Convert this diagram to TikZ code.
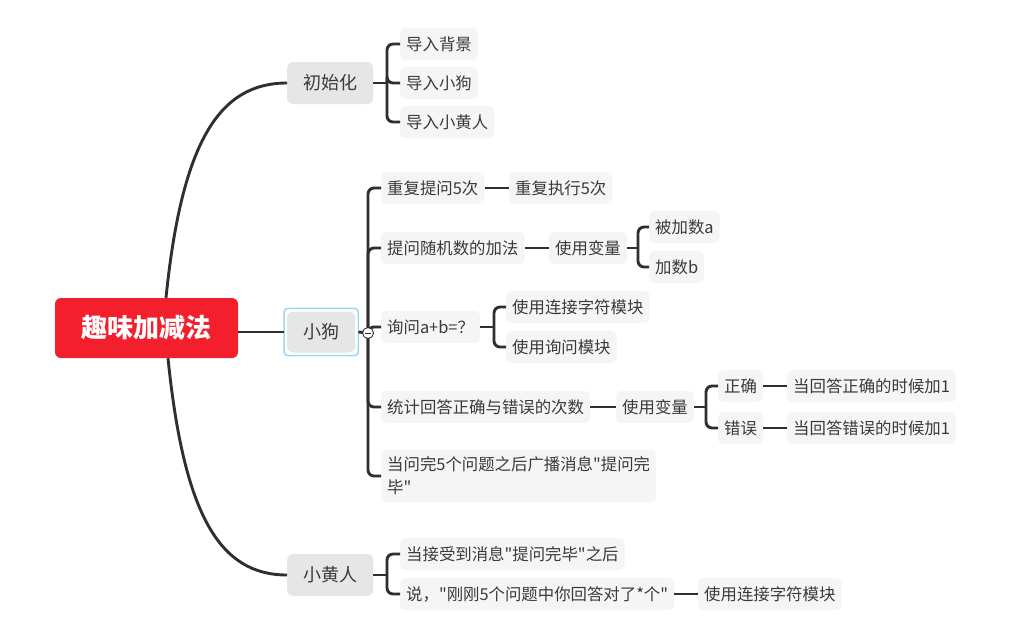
\documentclass[tikz,border=0pt]{standalone}
\usepackage{fontspec}
\setmainfont{Noto Sans CJK SC}[Ligatures=TeXOff]
\definecolor{linec}{HTML}{2F2F2F}
\definecolor{rootred}{HTML}{F31F2D}
\definecolor{midf}{HTML}{E6E6E6}
\definecolor{leaff}{HTML}{F5F5F5}
\definecolor{textc}{HTML}{3A3A3A}
\definecolor{framec}{HTML}{9ED8F7}
\begin{document}
\begin{tikzpicture}[x=1pt,y=-1pt,
 conn/.style={draw=linec, line width=2.9pt, rounded corners=6pt},
 leaf/.style={fill=leaff, rounded corners=5pt, minimum height=32pt, inner xsep=6pt, inner ysep=0pt, text=textc, font=\fontsize{16.4}{23}\selectfont, anchor=west},
 mid/.style={fill=midf, rounded corners=6pt, minimum height=42pt, inner xsep=16pt, inner ysep=0pt, text=textc, font=\fontsize{18}{22}\selectfont, anchor=west},
 rootbox/.style={fill=rootred, rounded corners=6pt, minimum width=183pt, minimum height=60pt, text=white, font=\fontsize{26}{30}\selectfont\bfseries},
]
\useasboundingbox[fill=white] (0,0) rectangle (1024,634);

% nodes
\node[rootbox] (root) at (146.5,328) {趣味加减法};
\node[mid] (init) at (287,83) {初始化};
\node[mid, minimum height=41pt] (dog) at (287,332) {小狗};
\node[mid] (yel) at (287,575) {小黄人};
\draw[framec, line width=1.5pt, rounded corners=4pt] ([xshift=-3pt,yshift=3pt]dog.north west) rectangle ([xshift=3pt,yshift=-3pt]dog.south east);

\node[leaf] (i1) at (400,44) {导入背景};
\node[leaf] (i2) at (400,83) {导入小狗};
\node[leaf] (i3) at (400,122) {导入小黄人};

\node[leaf] (d1) at (381,188) {重复提问5次};
\node[leaf] (d1a) at (509,188) {重复执行5次};
\node[leaf] (d2) at (381,248) {提问随机数的加法};
\node[leaf] (d2a) at (549,248) {使用变量};
\node[leaf] (d2b) at (649,227) {被加数a};
\node[leaf] (d2c) at (649,267) {加数b};
\node[leaf] (d3) at (381,327) {询问a+b=？};
\node[leaf] (d3a) at (506,307) {使用连接字符模块};
\node[leaf] (d3b) at (506,347) {使用询问模块};
\node[leaf] (d4) at (381,407) {统计回答正确与错误的次数};
\node[leaf] (d4a) at (616,407) {使用变量};
\node[leaf] (d4b) at (718,386) {正确};
\node[leaf] (d4c) at (718,428) {错误};
\node[leaf] (d4d) at (787,386) {当回答正确的时候加1};
\node[leaf] (d4e) at (787,428) {当回答错误的时候加1};
\node[leaf, align=left, minimum height=53pt] (d5) at (381,476) {当问完5个问题之后广播消息"提问完\\毕"};

\node[leaf] (y1) at (400,554) {当接受到消息"提问完毕"之后};
\node[leaf] (y2) at (400,594) {说，"刚刚5个问题中你回答对了*个"};
\node[leaf] (y2a) at (698,594) {使用连接字符模块};

% main connectors
\draw[conn] ([xshift=19.5pt]root.north) .. controls (182,140) and (220,83) .. (init.west);
\draw[conn] ([xshift=21.5pt]root.south) .. controls (184,516) and (220,575) .. (yel.west);
\draw[conn] ([xshift=-3pt]dog.west) -- (dog.west -| root.east);

% init bracket
\coordinate (ib) at (387,83);
\draw[conn] (init.east) -- (ib);
\foreach \c in {i1,i2,i3} \draw[conn] (\c.west) -| (ib);

% dog bracket
\coordinate (db) at (368,333);
\draw[conn] ([xshift=3pt]dog.east) -- (db);
\foreach \c in {d1,d2,d3,d4,d5} \draw[conn] (\c.west) -| (db);
\node[circle, draw=linec, fill=white, line width=0.9pt, minimum size=11pt, inner sep=0pt] (tog) at (db) {};
\draw[linec, line width=0.9pt] ([xshift=-3.2pt]tog.center) -- ([xshift=3.2pt]tog.center);

\draw[conn] (d1.east) -- (d1a.west);
\draw[conn] (d2.east) -- (d2a.west);
\coordinate (v1) at (638,248);
\draw[conn] (d2a.east) -- (v1);
\foreach \c in {d2b,d2c} \draw[conn] (\c.west) -| (v1);
\coordinate (q1) at (494,327);
\draw[conn] (d3.east) -- (q1);
\foreach \c in {d3a,d3b} \draw[conn] (\c.west) -| (q1);
\draw[conn] (d4.east) -- (d4a.west);
\coordinate (v2) at (706,407);
\draw[conn] (d4a.east) -- (v2);
\foreach \c in {d4b,d4c} \draw[conn] (\c.west) -| (v2);
\draw[conn] (d4b.east) -- (d4d.west);
\draw[conn] (d4c.east) -- (d4e.west);

% yellow bracket
\coordinate (yb) at (387,575);
\draw[conn] (yel.east) -- (yb);
\foreach \c in {y1,y2} \draw[conn] (\c.west) -| (yb);
\draw[conn] (y2.east) -- (y2a.west);
\end{tikzpicture}
\end{document}
